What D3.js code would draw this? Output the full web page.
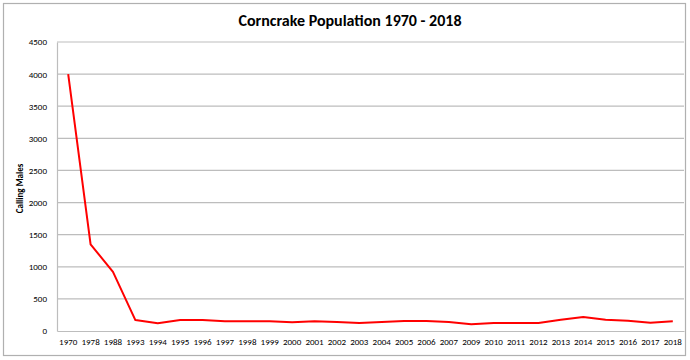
<!DOCTYPE html>
<html><head><meta charset="utf-8">
<script src="https://cdn.jsdelivr.net/npm/d3@7/dist/d3.min.js"></script>
<style>body{margin:0;background:#fff;}svg{display:block;}</style>
</head><body>
<script>
const years = ["1970","1978","1988","1993","1994","1995","1996","1997","1998","1999","2000","2001","2002","2003","2004","2005","2006","2007","2009","2010","2011","2012","2013","2014","2015","2016","2017","2018"];
const callingMales = [4000,1350,920,170,120,170,170,150,150,150,135,150,140,125,140,155,155,140,105,125,125,125,175,218,176,160,130,150];
const yTicks = [0,500,1000,1500,2000,2500,3000,3500,4000,4500];
const title = "Corncrake Population 1970 - 2018";
const yTitle = "Calling Males";

const W = 690, H = 360;
const m = {left:57, right:6, top:42, bottom:29};
const svg = d3.select("body").append("svg").attr("width",W).attr("height",H);
svg.append("rect").attr("x",3.5).attr("y",3.5).attr("width",W-8).attr("height",H-8)
  .attr("fill","#fff").attr("stroke","#b0b0b0").attr("stroke-width",1.2);

const x = d3.scaleBand().domain(years).range([m.left, W-m.right]);
const y = d3.scaleLinear().domain([0,4500]).range([H-m.bottom, m.top]);
const font = "Carlito, 'Open Sans', 'Liberation Sans', sans-serif";

svg.append("g").selectAll("line").data(yTicks.filter(d=>d>0)).join("line")
  .attr("x1",m.left).attr("x2",W-m.right).attr("y1",d=>y(d)).attr("y2",d=>y(d))
  .attr("stroke","#bdbdbd").attr("stroke-width",1.2);

const ya = svg.append("g").attr("transform",`translate(${m.left},0)`)
  .call(d3.axisLeft(y).tickValues(yTicks).tickFormat(d3.format("d")).tickSize(0).tickPadding(10));
ya.select(".domain").attr("stroke","#bdbdbd").attr("stroke-width",1.2);
ya.selectAll("text").attr("font-family",font).attr("font-size",9).attr("fill","#000");

const xa = svg.append("g").attr("transform",`translate(0,${H-m.bottom})`)
  .call(d3.axisBottom(x).tickSize(0).tickPadding(8));
xa.select(".domain").attr("stroke","#bdbdbd").attr("stroke-width",1.2);
xa.selectAll("text").attr("font-family",font).attr("font-size",9).attr("fill","#000");

const line = d3.line().x((d,i)=>x(years[i])+x.bandwidth()/2).y(d=>y(d));
svg.append("path").datum(callingMales).attr("d",line)
  .attr("fill","none").attr("stroke","#ff0000").attr("stroke-width",2).attr("stroke-linejoin","round");

svg.append("text").attr("x",W/2+5).attr("y",26).attr("text-anchor","middle")
  .attr("font-family",font).attr("font-weight","bold").attr("font-size",16).text(title);
svg.append("text").attr("transform",`translate(23,${(m.top+H-m.bottom)/2+2}) rotate(-90)`)
  .attr("text-anchor","middle").attr("font-family",font).attr("font-weight","bold").attr("font-size",9).text(yTitle);
</script>
</body></html>
